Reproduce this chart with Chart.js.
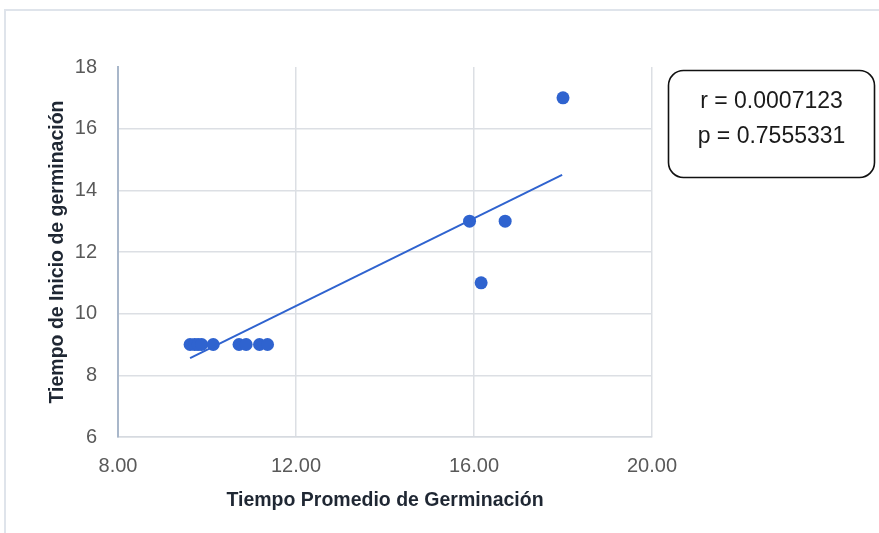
<!DOCTYPE html>
<html>
<head>
<meta charset="utf-8">
<script src="https://cdn.jsdelivr.net/npm/chart.js@4/dist/chart.umd.min.js"></script>
<style>
  html, body { margin: 0; padding: 0; background: #ffffff; }
  #wrap { width: 879px; height: 533px; }
</style>
</head>
<body>
<div id="wrap"><canvas id="c" width="879" height="533"></canvas></div>
<script>
// Tiempo promedio de germinación (x) vs. tiempo de inicio de germinación (y)
const promedio = [9.62, 9.72, 9.80, 9.88, 10.14, 10.72, 10.88, 11.18, 11.36, 15.90, 16.16, 16.70, 18.00];
const inicio   = [9, 9, 9, 9, 9, 9, 9, 9, 9, 13, 11, 13, 17];

// Línea de tendencia (extremos)
const trendX = [9.62, 17.98];
const trendY = [8.56, 14.50];

// Ejes
const xTicks = [8, 12, 16, 20];
const yTicks = [6, 8, 10, 12, 14, 16, 18];

// Estadísticos
const statLines = ['r = 0.0007123', 'p = 0.7555331'];

const xTitle = 'Tiempo Promedio de Germinación';
const yTitle = 'Tiempo de Inicio de germinación';

const points = promedio.map((x, i) => ({ x: x, y: inicio[i] }));
const trend = trendX.map((x, i) => ({ x: x, y: trendY[i] }));

const BLUE = 'rgb(47,99,207)';
const FONT = '"Liberation Sans", Arial, sans-serif';

// Outer frame lines and the statistics box
const decorations = {
  id: 'decorations',
  beforeDraw(chart) {
    const ctx = chart.ctx;
    ctx.save();
    ctx.strokeStyle = '#dfe4eb';
    ctx.lineWidth = 2;
    ctx.beginPath();
    ctx.moveTo(5, 533);
    ctx.lineTo(5, 10);
    ctx.lineTo(879, 10);
    ctx.stroke();
    ctx.restore();
  },
  afterDraw(chart) {
    const ctx = chart.ctx;
    ctx.save();
    const x = 668.5, y = 70.5, w = 206, h = 107, r = 15;
    ctx.beginPath();
    ctx.roundRect(x, y, w, h, r);
    ctx.fillStyle = '#ffffff';
    ctx.fill();
    ctx.lineWidth = 1.6;
    ctx.strokeStyle = '#111111';
    ctx.stroke();
    ctx.fillStyle = '#1a1a1a';
    ctx.font = '23px ' + FONT;
    ctx.textAlign = 'center';
    ctx.textBaseline = 'middle';
    ctx.fillText(statLines[0], x + w / 2, 102);
    ctx.fillText(statLines[1], x + w / 2, 137);
    ctx.restore();
  }
};

new Chart(document.getElementById('c'), {
  type: 'scatter',
  data: {
    datasets: [
      {
        type: 'line',
        data: trend,
        borderColor: BLUE,
        borderWidth: 2,
        pointRadius: 0,
        fill: false,
        order: 0
      },
      {
        data: points,
        backgroundColor: BLUE,
        borderColor: BLUE,
        borderWidth: 0,
        pointRadius: 6.5,
        order: 1
      }
    ]
  },
  options: {
    responsive: false,
    animation: false,
    devicePixelRatio: 1,
    layout: { padding: { left: 0, right: 227, top: 67, bottom: 0 } },
    plugins: { legend: { display: false }, tooltip: { enabled: false } },
    scales: {
      x: {
        type: 'linear',
        min: 8, max: 20,
        afterBuildTicks(scale) { scale.ticks = xTicks.map(v => ({ value: v })); },
        afterFit(scale) { scale.height = 96; },
        ticks: {
          color: '#595959',
          font: { family: FONT, size: 20 },
          padding: 17,
          callback: v => Number(v).toFixed(2)
        },
        grid: { color: '#dcdfe4', lineWidth: 1.5, drawTicks: false },
        border: { display: true, color: '#d6dae0', width: 1.5 },
        title: {
          display: true,
          text: xTitle,
          color: '#1f2733',
          font: { family: FONT, size: 19.5, weight: 'bold' },
          padding: { top: 0, bottom: 21 }
        }
      },
      y: {
        type: 'linear',
        min: 6, max: 18,
        afterBuildTicks(scale) { scale.ticks = yTicks.map(v => ({ value: v })); },
        afterFit(scale) { scale.width = 118; },
        ticks: {
          color: '#595959',
          font: { family: FONT, size: 20 },
          padding: 21
        },
        grid: {
          color: ctx => (ctx.tick && ctx.tick.value === 18) ? 'rgba(0,0,0,0)' : '#dcdfe4',
          lineWidth: 1.5,
          drawTicks: false
        },
        border: { display: true, color: '#a9b7ca', width: 2 },
        title: {
          display: true,
          text: yTitle,
          color: '#1f2733',
          font: { family: FONT, size: 19.5, weight: 'bold' },
          padding: { top: 46, bottom: 0 }
        }
      }
    }
  },
  plugins: [decorations]
});
</script>
</body>
</html>
